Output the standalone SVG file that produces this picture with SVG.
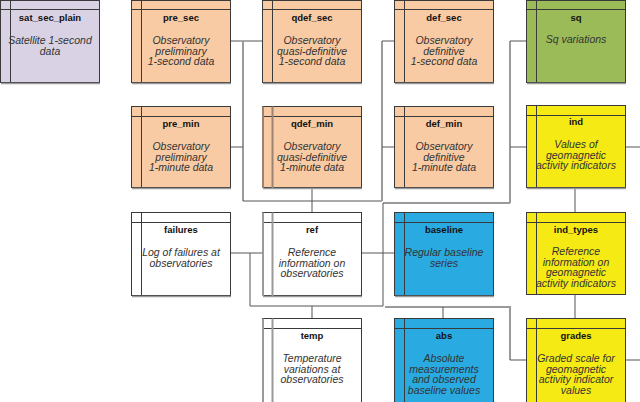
<svg xmlns="http://www.w3.org/2000/svg" width="640" height="402" viewBox="0 0 640 402">
<style>
.box{stroke:#3a3a3a;stroke-width:1}
.sep{stroke:#3a3a3a;stroke-width:1;fill:none}
.hl{stroke:#9a9a9a;stroke-width:2;fill:none}
.shadow{stroke:#9a9a9a;stroke-width:1.5;fill:none}
.t{font-family:"Liberation Sans",Arial,sans-serif;font-size:9.5px;font-weight:bold;fill:#111;text-anchor:middle}
.d{font-family:"Liberation Sans",Arial,sans-serif;font-size:10.5px;font-style:italic;fill:#333;text-anchor:middle}
.lav{fill:#D9D2E4}.org{fill:#F8CBA4}.grn{fill:#9BBB59}.yel{fill:#F5EA14}.blu{fill:#29AAE1}.wht{fill:#FFFFFF}
.c{stroke:#555;stroke-width:1;fill:none}
.cg{stroke:#9a9a9a;stroke-width:2;fill:none}
</style>
<rect width="640" height="402" fill="#fff"/>
<g id="connectors">
<path class="c" d="M231,41H262"/>
<path class="cg" d="M243,41V201"/>
<path class="c" d="M231,147H243"/>
<path class="c" d="M243,201H382"/>
<path class="cg" d="M382,41V201"/>
<path class="c" d="M382,41H394"/>
<path class="c" d="M382,147H394"/>
<path class="c" d="M312,188V212"/>
<path class="cg" d="M383,203H510"/>
<path class="cg" d="M510,41V203"/>
<path class="c" d="M510,41H526"/>
<path class="c" d="M510,147H526"/>
<path class="c" d="M383,203V306"/>
<path class="c" d="M362,253H394"/>
<path class="c" d="M231,253H262"/>
<path class="c" d="M250,253V306H383"/>
<path class="c" d="M312,306V318"/>
<path class="cg" d="M385,307H510V360"/>
<path class="c" d="M443,307V318"/>
<path class="c" d="M510,360H526"/>
<path class="c" d="M575,188V212"/>
<path class="c" d="M575,294V318"/>
<path class="c" d="M625,147H640"/>
<path class="c" d="M625,360H640"/>
</g>
<g id="sat_sec_plain">
<rect class="box lav" x="0.5" y="0.5" width="99" height="82"/>
<path class="sep" d="M0.5,9.5H99.5M10.5,0.5V82.5"/>
<path class="shadow" d="M1,83.5H100"/>
<text class="t" x="50" y="21">sat_sec_plain</text>
<text class="d" x="50" y="44">Satellite 1-second</text>
<text class="d" x="50" y="54.5">data</text>
</g>
<g id="pre_sec">
<rect class="box org" x="131.5" y="0.5" width="99" height="82"/>
<path class="sep" d="M131.5,9.5H230.5M141.5,0.5V82.5"/>
<path class="shadow" d="M132,83.5H231"/>
<text class="t" x="181" y="21">pre_sec</text>
<text class="d" x="181" y="44">Observatory</text>
<text class="d" x="181" y="54.5">preliminary</text>
<text class="d" x="181" y="65">1-second data</text>
</g>
<g id="qdef_sec">
<rect class="box org" x="262.5" y="0.5" width="99" height="82"/>
<path class="sep" d="M262.5,9.5H361.5M272.5,0.5V82.5"/>
<path class="shadow" d="M263,83.5H362"/>
<text class="t" x="312" y="21">qdef_sec</text>
<text class="d" x="312" y="44">Observatory</text>
<text class="d" x="312" y="54.5">quasi-definitive</text>
<text class="d" x="312" y="65">1-second data</text>
</g>
<g id="def_sec">
<rect class="box org" x="394.5" y="0.5" width="99" height="82"/>
<path class="sep" d="M394.5,9.5H493.5M404.5,0.5V82.5"/>
<path class="shadow" d="M395,83.5H494"/>
<text class="t" x="444" y="21">def_sec</text>
<text class="d" x="444" y="44">Observatory</text>
<text class="d" x="444" y="54.5">definitive</text>
<text class="d" x="444" y="65">1-second data</text>
</g>
<g id="sq">
<rect class="box grn" x="526.5" y="0.5" width="99" height="82"/>
<path class="sep" d="M526.5,9.5H625.5M536.5,0.5V82.5"/>
<path class="shadow" d="M527,83.5H626"/>
<text class="t" x="576" y="21">sq</text>
<text class="d" x="576" y="43">Sq variations</text>
</g>
<g id="pre_min">
<rect class="box org" x="131.5" y="106.5" width="99" height="81"/>
<path class="sep" d="M131.5,116.5H230.5M141.5,106.5V187.5"/>
<path class="shadow" d="M132,188.5H231"/>
<text class="t" x="181" y="127">pre_min</text>
<text class="d" x="181" y="150">Observatory</text>
<text class="d" x="181" y="160.5">preliminary</text>
<text class="d" x="181" y="171">1-minute data</text>
</g>
<g id="qdef_min">
<rect class="box org" x="262.5" y="106.5" width="99" height="81"/>
<path class="sep" d="M262.5,116.5H361.5"/>
<path class="hl" d="M263,106.5V188M272.5,106.5V188" style="stroke:#9c8270"/>
<path class="shadow" d="M263,188.5H362"/>
<text class="t" x="312" y="127">qdef_min</text>
<text class="d" x="312" y="150">Observatory</text>
<text class="d" x="312" y="160.5">quasi-definitive</text>
<text class="d" x="312" y="171">1-minute data</text>
</g>
<g id="def_min">
<rect class="box org" x="394.5" y="106.5" width="99" height="81"/>
<path class="sep" d="M394.5,116.5H493.5M404.5,106.5V187.5"/>
<path class="shadow" d="M395,188.5H494"/>
<text class="t" x="444" y="127">def_min</text>
<text class="d" x="444" y="150">Observatory</text>
<text class="d" x="444" y="160.5">definitive</text>
<text class="d" x="444" y="171">1-minute data</text>
</g>
<g id="ind">
<rect class="box yel" x="526.5" y="105.5" width="99" height="82"/>
<path class="sep" d="M526.5,115.5H625.5M536.5,105.5V187.5"/>
<path class="shadow" d="M527,188.5H626"/>
<text class="t" x="576" y="125">ind</text>
<text class="d" x="576" y="148">Values of</text>
<text class="d" x="576" y="158.5">geomagnetic</text>
<text class="d" x="576" y="169">activity indicators</text>
</g>
<g id="failures">
<rect class="box wht" x="131.5" y="212.5" width="99" height="83"/>
<path class="sep" d="M131.5,222.5H230.5M141.5,212.5V295.5"/>
<path class="shadow" d="M132,296.5H231"/>
<text class="t" x="181" y="233">failures</text>
<text class="d" x="181" y="256">Log of failures at</text>
<text class="d" x="181" y="266.5">observatories</text>
</g>
<g id="ref">
<rect class="box wht" x="262.5" y="212.5" width="99" height="83"/>
<path class="sep" d="M262.5,222.5H361.5"/>
<path class="hl" d="M263,212.5V296M272.5,212.5V296"/>
<path class="shadow" d="M263,296.5H362"/>
<text class="t" x="312" y="233">ref</text>
<text class="d" x="312" y="256">Reference</text>
<text class="d" x="312" y="266.5">information on</text>
<text class="d" x="312" y="277">observatories</text>
</g>
<g id="baseline">
<rect class="box blu" x="394.5" y="212.5" width="99" height="83"/>
<path class="sep" d="M394.5,222.5H493.5M404.5,212.5V295.5"/>
<path class="shadow" d="M395,296.5H494"/>
<text class="t" x="444" y="233">baseline</text>
<text class="d" x="444" y="256">Regular baseline</text>
<text class="d" x="444" y="266.5">series</text>
</g>
<g id="ind_types">
<rect class="box yel" x="526.5" y="212.5" width="99" height="82"/>
<path class="sep" d="M526.5,222.5H625.5M536.5,212.5V294.5"/>
<text class="t" x="576" y="233">ind_types</text>
<text class="d" x="576" y="255">Reference</text>
<text class="d" x="576" y="265.5">information on</text>
<text class="d" x="576" y="276">geomagnetic</text>
<text class="d" x="576" y="286.5">activity indicators</text>
</g>
<g id="temp">
<rect class="box wht" x="262.5" y="318.5" width="99" height="88"/>
<path class="sep" d="M262.5,328.5H361.5"/>
<path class="hl" d="M263,318.5V404M272.5,318.5V404"/>
<text class="t" x="312" y="339">temp</text>
<text class="d" x="312" y="362">Temperature</text>
<text class="d" x="312" y="372.5">variations at</text>
<text class="d" x="312" y="383">observatories</text>
</g>
<g id="abs">
<rect class="box blu" x="394.5" y="318.5" width="99" height="88"/>
<path class="sep" d="M394.5,328.5H493.5M404.5,318.5V404"/>
<text class="t" x="444" y="339">abs</text>
<text class="d" x="444" y="362">Absolute</text>
<text class="d" x="444" y="372.5">measurements</text>
<text class="d" x="444" y="383">and observed</text>
<text class="d" x="444" y="393.5">baseline values</text>
</g>
<g id="grades">
<rect class="box yel" x="526.5" y="318.5" width="99" height="88"/>
<path class="sep" d="M526.5,328.5H625.5M536.5,318.5V404"/>
<text class="t" x="576" y="339">grades</text>
<text class="d" x="576" y="362">Graded scale for</text>
<text class="d" x="576" y="372.5">geomagnetic</text>
<text class="d" x="576" y="383">activity indicator</text>
<text class="d" x="576" y="393.5">values</text>
</g>
</svg>
